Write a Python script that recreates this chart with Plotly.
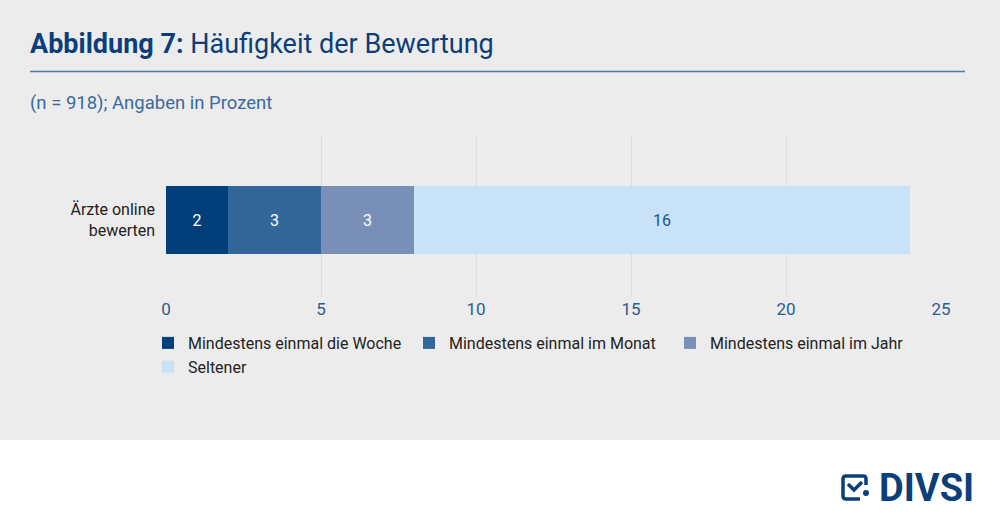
import plotly.graph_objects as go

categories = ["Ärzte online<br>bewerten"]
series_names = ["Mindestens einmal die Woche", "Mindestens einmal im Monat",
                "Mindestens einmal im Jahr", "Seltener"]
series_values = [[2], [3], [3], [16]]
series_colors = ["#003f7a", "#336699", "#7890b8", "#c8e3f7"]
label_colors = ["#ffffff", "#ffffff", "#ffffff", "#1f548a"]
x_ticks = [0, 5, 10, 15, 20, 25]

W, H = 1000, 522
L, R, T, B = 166, 59, 136, 225
PW, PH = W - L - R, H - T - B
FONT = "Roboto"
BLUE = "#0b3f7a"

def fx(x):
    return (x - L) / PW

def fy(y):
    return (H - B - y) / PH

fig = go.Figure()
for name, vals, col, lc in zip(series_names, series_values, series_colors, label_colors):
    fig.add_trace(go.Bar(
        y=categories, x=vals, name=name, orientation="h",
        marker=dict(color=col, line=dict(width=0)),
        text=[str(v) for v in vals], textposition="inside", insidetextanchor="middle",
        textfont=dict(color=lc, size=16, family=FONT),
        width=0.42,
    ))

shapes = [
    dict(type="rect", xref="paper", yref="paper", x0=fx(0), x1=fx(W), y0=fy(440), y1=fy(0),
         fillcolor="#ececec", line=dict(width=0), layer="below"),
    dict(type="line", xref="paper", yref="paper", x0=fx(30), x1=fx(965), y0=fy(71.5), y1=fy(71.5),
         line=dict(color="#4d7aa8", width=1.5)),
    # logo icon
    dict(type="path", xref="paper", yref="paper",
         path=f"M {fx(866)},{fy(485)} L {fx(866)},{fy(479)} Q {fx(866)},{fy(476)} {fx(863)},{fy(476)} "
              f"L {fx(846)},{fy(476)} Q {fx(843)},{fy(476)} {fx(843)},{fy(479)} L {fx(843)},{fy(496)} "
              f"Q {fx(843)},{fy(499)} {fx(846)},{fy(499)} L {fx(860)},{fy(499)}",
         line=dict(color=BLUE, width=3.5)),
    dict(type="path", xref="paper", yref="paper",
         path=f"M {fx(848)},{fy(484)} L {fx(854)},{fy(490)} L {fx(862)},{fy(482)}",
         line=dict(color=BLUE, width=3.5)),
    dict(type="circle", xref="paper", yref="paper", x0=fx(863), x1=fx(869), y0=fy(496), y1=fy(490),
         fillcolor=BLUE, line=dict(width=0)),
]

annotations = [
    dict(text="<b>Abbildung 7:</b> Häufigkeit der Bewertung", xref="paper", yref="paper",
         x=fx(28), y=fy(44), xanchor="left", yanchor="middle", showarrow=False,
         font=dict(size=27, color=BLUE, family=FONT)),
    dict(text="(n = 918); Angaben in Prozent", xref="paper", yref="paper",
         x=fx(28), y=fy(103), xanchor="left", yanchor="middle", showarrow=False,
         font=dict(size=18.5, color="#3a6a9c", family=FONT)),
    dict(text="<b>DIVSI</b>", xref="paper", yref="paper",
         x=fx(877), y=fy(488), xanchor="left", yanchor="middle", showarrow=False,
         font=dict(size=38, color=BLUE, family=FONT)),
]

fig.update_layout(
    width=W, height=H, barmode="stack",
    margin=dict(l=L, r=R, t=T, b=B, pad=0),
    paper_bgcolor="#ffffff", plot_bgcolor="rgba(0,0,0,0)",
    font=dict(family=FONT, color="#222222"),
    shapes=shapes, annotations=annotations,
    showlegend=True,
    legend=dict(orientation="h", x=fx(148), y=fy(326), xanchor="left", yanchor="top",
                entrywidth=216, entrywidthmode="pixels", traceorder="normal",
                font=dict(size=16, color="#222222", family=FONT), bgcolor="rgba(0,0,0,0)"),
    xaxis=dict(range=[0, 25], tickvals=x_ticks, showgrid=True, gridcolor="#dcdcdc", gridwidth=1,
               zeroline=False, showline=False, ticks="",
               tickfont=dict(size=17, color="#2b5c8f", family=FONT)),
    yaxis=dict(range=[-0.478, 0.522], showgrid=False, zeroline=False, showline=False,
               ticks="", ticklabelstandoff=10,
               tickfont=dict(size=16, color="#222222", family=FONT)),
    uniformtext=dict(mode="show", minsize=10),
)

fig.write_html("out.html", config={"displayModeBar": False},
               post_script="document.body.style.margin='0';")
